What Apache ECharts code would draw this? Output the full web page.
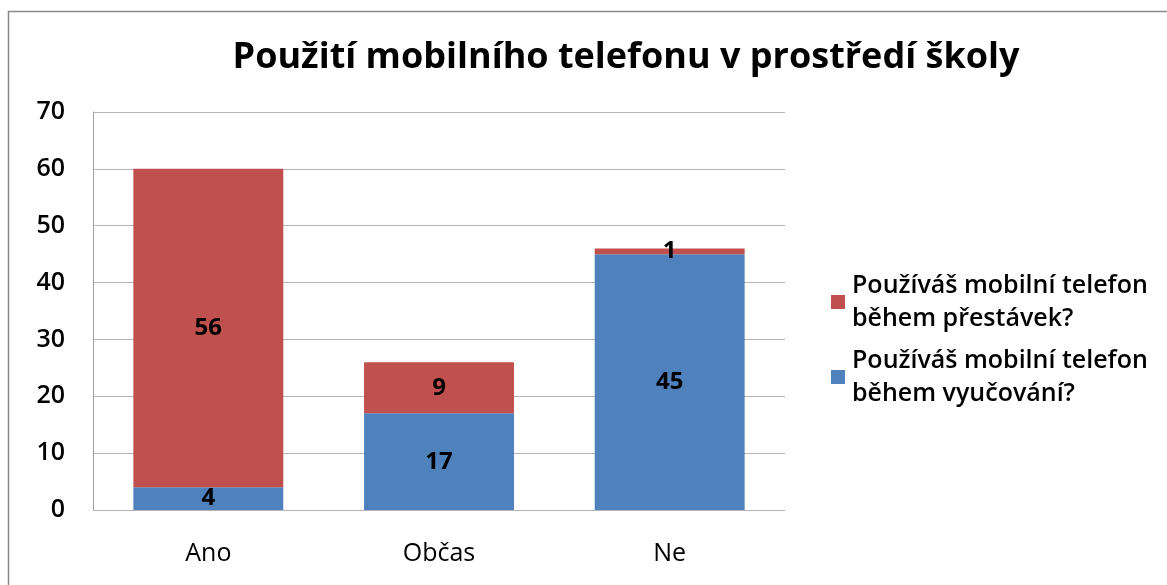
<!DOCTYPE html>
<html>
<head>
<meta charset="utf-8">
<script src="https://cdn.jsdelivr.net/npm/echarts@6/dist/echarts.min.js"></script>
<style>
  html, body { margin: 0; padding: 0; background: #fff; }
  #chart { width: 1167px; height: 585px; }
</style>
</head>
<body>
<div id="chart"></div>
<script>
// kategorie a hodnoty
const categories = ["Ano", "Občas", "Ne"];
const duringLessons = [4, 17, 45]; // během vyučování
const duringBreaks = [56, 9, 1]; // během přestávek
const yTicks = [0, 70, 10]; // min, max, interval

const font = "Open Sans";
let myChart = echarts.init(document.getElementById("chart"));
let labelStyle = { show: true, position: "inside", fontSize: 24, fontWeight: "bold", color: "#000", fontFamily: font };
let option = {
  backgroundColor: "#fff",
  textStyle: { fontFamily: font },
  title: {
    text: "Použití mobilního telefonu v prostředí školy",
    left: 621,
    textAlign: "center",
    top: 35,
    textStyle: { fontSize: 36, fontWeight: "bold", color: "#000", fontFamily: font },
  },
  graphic: [
    {
      type: "rect",
      shape: { x: 8.5, y: 11.5, width: 1170, height: 590 },
      style: { fill: "none", stroke: "#8a8a8a", lineWidth: 1.5 },
      silent: true,
    },
  ],
  legend: {
    orient: "vertical",
    left: 826,
    top: 264,
    itemWidth: 14,
    itemHeight: 14,
    itemGap: 9,
    icon: "rect",
    textStyle: { fontSize: 25, fontWeight: 600, color: "#000", lineHeight: 33, fontFamily: font, padding: [0, 0, 0, 2] },
    data: [
      "Používáš mobilní telefon\nběhem přestávek?",
      "Používáš mobilní telefon\nběhem vyučování?",
    ],
  },
  grid: { left: 93, right: 382, top: 112, bottom: 75 },
  xAxis: {
    type: "category",
    data: categories,
    axisLine: { show: false },
    axisTick: { show: false },
    axisLabel: { fontSize: 25, fontWeight: 500, color: "#000", margin: 31, fontFamily: font },
  },
  yAxis: {
    type: "value",
    min: yTicks[0],
    max: yTicks[1],
    interval: yTicks[2],
    axisLine: { show: true, lineStyle: { color: "#a0a0a0" } },
    axisTick: { show: false },
    splitLine: { lineStyle: { color: "#b4b4b4" } },
    axisLabel: { fontSize: 25, fontWeight: 600, color: "#000", margin: 28, fontFamily: font },
  },
  series: [
    {
      name: "Používáš mobilní telefon\nběhem vyučování?",
      type: "bar",
      stack: "a",
      barWidth: "65%",
      data: duringLessons,
      itemStyle: { color: "#4F81BD" },
      label: labelStyle,
    },
    {
      name: "Používáš mobilní telefon\nběhem přestávek?",
      type: "bar",
      stack: "a",
      data: duringBreaks,
      itemStyle: { color: "#C0504D" },
      label: labelStyle,
    },
  ],
  animation: false,
};
myChart.setOption(option);
</script>
</body>
</html>
